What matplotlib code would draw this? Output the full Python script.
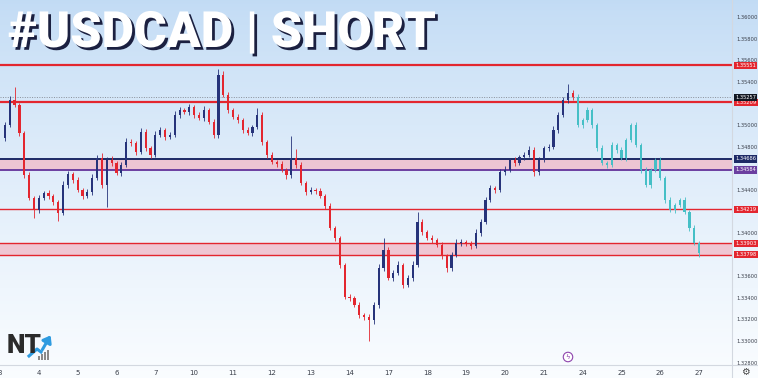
import numpy as np
import matplotlib
matplotlib.use("Agg")
import matplotlib.pyplot as plt
import matplotlib.patheffects as pe
from matplotlib.transforms import blended_transform_factory
from matplotlib.patches import FancyArrowPatch, Rectangle

# --- données (USDCAD, bougies 3h) ---
day_labels = ["3", "4", "5", "6", "7", "10", "11", "12", "13", "14",
              "17", "18", "19", "20", "21", "24", "25", "26", "27"]
candles_per_day = 8

first_open = 1.34880
closes = [
    1.35000, 1.35231, 1.35185, 1.34926, 1.34537, 1.34324, 1.34213, 1.34324, 1.34370, 1.34343,
    1.34287, 1.34185, 1.34444, 1.34546, 1.34491, 1.34398, 1.34343, 1.34380, 1.34509, 1.34694,
    1.34444, 1.34676, 1.34648, 1.34556, 1.34630, 1.34843, 1.34833, 1.34750, 1.34935, 1.34787,
    1.34722, 1.34907, 1.34954, 1.34889, 1.34907, 1.35093, 1.35139, 1.35120, 1.35167, 1.35093,
    1.35065, 1.35139, 1.35028, 1.34907, 1.35463, 1.35278, 1.35139, 1.35074, 1.35046, 1.34954,
    1.34926, 1.34981, 1.35093, 1.34843, 1.34722, 1.34657, 1.34639, 1.34583, 1.34537, 1.34694,
    1.34630, 1.34463, 1.34380, 1.34398, 1.34389, 1.34343, 1.34250, 1.34046, 1.33954, 1.33704,
    1.33407, 1.33398, 1.33333, 1.33241, 1.33222, 1.33194, 1.33333, 1.33676, 1.33843, 1.33583,
    1.33630, 1.33704, 1.33519, 1.33583, 1.33704, 1.34102, 1.34009, 1.33954, 1.33935, 1.33889,
    1.33787, 1.33676, 1.33796, 1.33907, 1.33917, 1.33898, 1.33880, 1.34000, 1.34102, 1.34306,
    1.34417, 1.34398, 1.34565, 1.34583, 1.34676, 1.34648, 1.34704, 1.34722, 1.34769, 1.34565,
    1.34676, 1.34787, 1.34796, 1.34954, 1.35093, 1.35231, 1.35296, 1.35257,
]
up_pips = [
    3, 4, 12, 2, 2, 3, 2, 3, 2, 3,
    2, 2, 4, 3, 2, 3, 2, 3, 4, 3,
    5, 3, 4, 2, 3, 4, 3, 2, 4, 3,
    2, 4, 3, 2, 3, 4, 3, 2, 3, 2,
    3, 4, 2, 3, 6, 4, 3, 2, 3, 2,
    3, 2, 6, 3, 2, 3, 2, 3, 2, 20,
    8, 3, 2, 3, 2, 3, 2, 3, 2, 2,
    2, 3, 2, 3, 2, 3, 3, 4, 11, 3,
    3, 4, 2, 3, 4, 9, 3, 2, 3, 2,
    3, 2, 3, 4, 3, 2, 3, 4, 3, 3,
    3, 2, 3, 4, 2, 3, 2, 3, 4, 3,
    3, 2, 3, 4, 3, 3, 8, 3,
]
down_pips = [
    3, 2, 2, 3, 3, 2, 7, 3, 2, 3,
    3, 7, 2, 3, 3, 2, 3, 2, 3, 2,
    3, 20, 3, 2, 3, 2, 3, 3, 2, 3,
    3, 2, 2, 3, 2, 2, 3, 2, 3, 3,
    2, 3, 2, 3, 3, 2, 3, 2, 3, 3,
    2, 3, 2, 3, 3, 2, 3, 2, 4, 3,
    3, 2, 3, 2, 3, 2, 3, 2, 3, 3,
    2, 3, 2, 3, 3, 19, 4, 3, 3, 2,
    3, 2, 3, 2, 3, 2, 3, 2, 3, 2,
    3, 4, 3, 2, 3, 2, 3, 2, 3, 2,
    2, 3, 2, 3, 2, 3, 2, 3, 2, 4,
    3, 2, 3, 2, 3, 2, 3, 3,
]

# projection (ghost feed)
proj_closes = [
    1.35000, 1.35046, 1.35139, 1.35000, 1.34787, 1.34648, 1.34630, 1.34815, 1.34769, 1.34694,
    1.34861, 1.35000, 1.34815, 1.34583, 1.34444, 1.34583, 1.34676, 1.34509, 1.34306, 1.34213,
    1.34259, 1.34306, 1.34194, 1.34046, 1.33907, 1.33815,
]
proj_up = [3, 2, 3, 2, 2, 3, 2, 3, 2, 3, 2, 2, 3, 2, 3, 2, 2, 3, 2, 3, 2, 2, 3, 2, 3, 2]
proj_dn = [2, 3, 2, 3, 3, 2, 3, 2, 3, 2, 3, 2, 2, 3, 2, 3, 2, 2, 3, 2, 3, 2, 2, 3, 2, 4]

# niveaux
levels = [
    (1.35551, "#e3262f", 1.6),
    (1.35209, "#e3262f", 1.6),
    (1.34686, "#1d2a66", 1.4),
    (1.34584, "#6b3fa0", 1.4),
    (1.34219, "#e3262f", 1.0),
    (1.33903, "#e3262f", 1.0),
    (1.33798, "#e3262f", 1.0),
]
zones = [(1.34584, 1.34686), (1.33798, 1.33903)]
last_price = 1.35257

BULL = "#26337a"
BEAR = "#e3262f"
PROJ = "#45bfc6"

W, H = 758, 378
fig = plt.figure(figsize=(W / 100, H / 100), dpi=100)

# fond dégradé
bg = fig.add_axes([0, 0, 1, 1], zorder=0)
grad = np.linspace(0, 1, 256).reshape(-1, 1)
top = np.array([0.76, 0.86, 0.96])
bot = np.array([0.98, 0.99, 1.0])
img = top + (bot - top) * grad[..., None] ** 0.8
bg.imshow(img.reshape(256, 1, 3), aspect="auto", extent=[0, 1, 0, 1])
bg.set_axis_off()

ax = fig.add_axes([0, 13 / H, 732 / W, 365 / H], zorder=1)
ax.patch.set_alpha(0)
for s in ax.spines.values():
    s.set_visible(False)

x0, step = -3.0, 4.875  # position pixel du premier jour / largeur d'une bougie
ax.set_xlim((0 - x0) / step, (732 - x0) / step)
ax.set_ylim(1.36 - 348 / 10800, 1.36 + 17 / 10800)


def draw_candles(start, opens, closes_, ups, dns, colored=True):
    opens = np.array(opens)
    closes_ = np.array(closes_)
    idx = np.arange(start, start + len(closes_))
    hi = np.maximum(opens, closes_) + np.array(ups) * 1e-4
    lo = np.minimum(opens, closes_) - np.array(dns) * 1e-4
    if colored:
        cols = np.where(closes_ >= opens, BULL, BEAR)
    else:
        cols = np.array([PROJ] * len(closes_))
    ax.vlines(idx, lo, hi, colors=cols, lw=0.6, zorder=4)
    ax.bar(idx, np.abs(closes_ - opens), bottom=np.minimum(opens, closes_),
           width=0.45, color=cols, zorder=4)


opens = [first_open] + closes[:-1]
draw_candles(1, opens, closes, up_pips, down_pips)
popens = [closes[-1]] + proj_closes[:-1]
draw_candles(1 + len(closes), popens, proj_closes, proj_up, proj_dn, colored=False)

# zones et lignes
for lo_, hi_ in zones:
    ax.axhspan(lo_, hi_, color="#f2b8c6", alpha=0.75, lw=0, zorder=2)
for lvl, col, lw in levels:
    ax.axhline(lvl, color=col, lw=lw, zorder=3)
ax.axhline(last_price, color="#8a8f99", lw=0.7, ls=(0, (1, 1.5)), zorder=3)

# axe des prix à droite
ax.yaxis.tick_right()
ax.set_yticks(np.arange(1.328, 1.3601, 0.002))
ax.set_yticklabels([f"{v:.5f}" for v in np.arange(1.328, 1.3601, 0.002)])
ax.tick_params(axis="y", length=0, pad=3.5, labelsize=3.7, labelcolor="#3a3f4a")

ax.set_xticks(np.arange(len(day_labels)) * candles_per_day)
ax.set_xticklabels(day_labels)
ax.tick_params(axis="x", length=0, pad=3.5, labelsize=5, labelcolor="#3a3f4a")

trans = blended_transform_factory(ax.transAxes, ax.transData)
box_levels = [(1.35551, "#e3262f"), (1.35209, "#e3262f"), (last_price, "#131722"),
              (1.34686, "#1d2a66"), (1.34584, "#6b3fa0"), (1.34219, "#e3262f"),
              (1.33903, "#e3262f"), (1.33798, "#e3262f")]
for lvl, col in box_levels:
    ax.text(1.0045, lvl, f"{lvl:.5f}", transform=trans, ha="left", va="center",
            fontsize=3.7, color="white", clip_on=False, zorder=10,
            bbox=dict(boxstyle="square,pad=0.22", fc=col, ec="none"))

# séparateurs
fig.add_artist(plt.Line2D([732 / W, 732 / W], [0, 1], color="#d3d8e0", lw=0.8))
fig.add_artist(plt.Line2D([0, 1], [13 / H, 13 / H], color="#d3d8e0", lw=0.8))

# titre
fig.text(8 / W, 1 - 10 / H, "#USDCAD | SHORT", ha="left", va="top", fontsize=36,
         fontweight="black", family=["Roboto", "DejaVu Sans"], color="white",
         path_effects=[pe.withSimplePatchShadow(offset=(2, -2), shadow_rgbFace="#1b2040", alpha=1)])

# logo NT
fig.text(7 / W, 1 - 346 / H, "NT", ha="left", va="center", fontsize=19,
         fontweight="black", family=["Roboto", "DejaVu Sans"], color="#2b2b2b")
for i, hgt in enumerate([4, 6, 8, 10]):
    fig.add_artist(Rectangle(((38 + i * 3) / W, 1 - 360 / H), 1.5 / W, hgt / H,
                             transform=fig.transFigure, color="#8a8a8a", lw=0))
pts = [(29, 356), (37, 349), (41, 352)]
fig.add_artist(plt.Line2D([p[0] / W for p in pts], [1 - p[1] / H for p in pts],
                          color="#2e9be0", lw=2.2))
fig.add_artist(FancyArrowPatch((41 / W, 1 - 352 / H), (52 / W, 1 - 333 / H),
                               transform=fig.transFigure, color="#2e9be0",
                               arrowstyle="-|>,head_length=4,head_width=3", lw=2.2))

# icône événement + engrenage
fig.text(568 / W, 1 - 357 / H, "ϟ", ha="center", va="center", fontsize=5, color="#8e44ad",
         bbox=dict(boxstyle="circle,pad=0.25", fc="white", ec="#8e44ad", lw=0.8))
fig.text(745 / W, 1 - 372 / H, "⚙", ha="center", va="center", fontsize=7, color="#444")

fig.savefig("out.png", dpi=100)
